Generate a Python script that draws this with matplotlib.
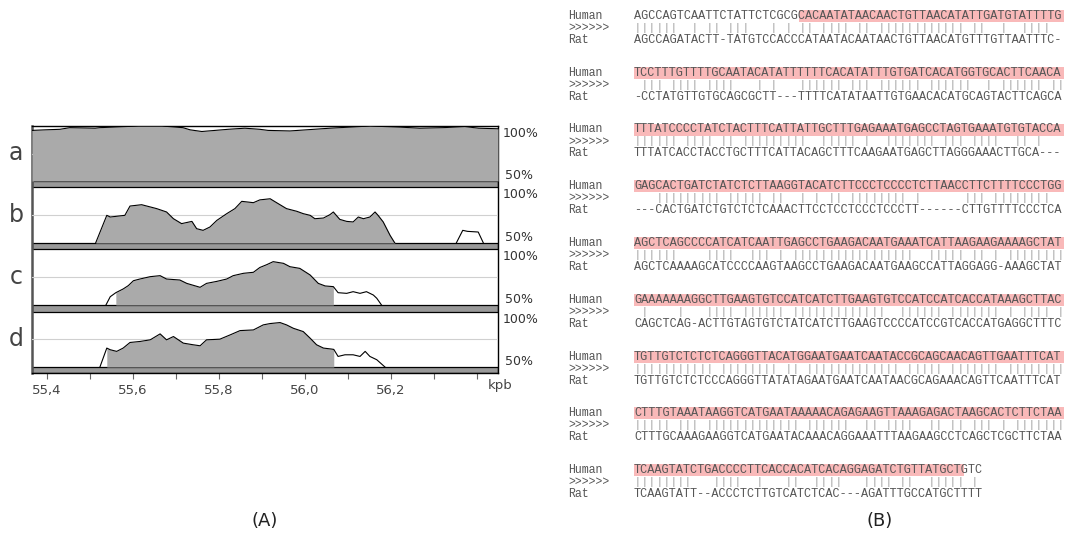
import numpy as np
import matplotlib.pyplot as plt
from matplotlib.patches import Rectangle

W, H = 1067, 533

# ---- (A) conservation profiles: position (kpb) and identity (%) ----
a_x = [55.365, 55.395, 55.430, 55.453, 55.512, 55.523, 55.612, 55.667, 55.716, 55.733,
       55.760, 55.791, 55.821, 55.860, 55.895, 55.914, 55.965, 56.058, 56.151, 56.221,
       56.267, 56.321, 56.372, 56.404, 56.449]
a_y = [96, 96.5, 97, 98.5, 98, 98.5, 100, 100, 98.5, 96.5,
       95, 96, 97, 98, 97, 96, 95.5, 98, 100, 99,
       98, 98.5, 99.5, 98, 97.5]

b_x = [55.513, 55.539, 55.547, 55.581, 55.593, 55.620, 55.655, 55.678, 55.694, 55.713,
       55.737, 55.748, 55.763, 55.779, 55.795, 55.818, 55.837, 55.853, 55.880, 55.895,
       55.919, 55.934, 55.957, 55.981, 55.996, 56.012, 56.023, 56.043, 56.058, 56.066,
       56.081, 56.097, 56.112, 56.124, 56.136, 56.151, 56.163, 56.170, 56.182, 56.198,
       56.209]
b_y = [50, 74.7, 73.2, 74.7, 83.0, 84.2, 80.7, 77.7, 71.7, 67.3,
       69.3, 62.8, 61.3, 64.3, 70.2, 76.2, 80.7, 87.2, 86.0, 88.5,
       89.5, 86.0, 80.7, 78.3, 76.2, 74.7, 71.7, 72.3, 75.3, 77.7,
       71.1, 69.3, 68.8, 73.2, 71.7, 73.2, 77.7, 74.7, 68.8, 56.8,
       50]
b2_x = [56.352, 56.367, 56.378, 56.403, 56.415]
b2_y = [50, 61.3, 60.4, 59.8, 50]

c_x = [55.537, 55.547, 55.560, 55.577, 55.589, 55.601, 55.616, 55.640, 55.663, 55.678,
       55.709, 55.725, 55.756, 55.771, 55.795, 55.818, 55.833, 55.857, 55.880, 55.895,
       55.911, 55.926, 55.950, 55.965, 55.988, 56.012, 56.031, 56.047, 56.066, 56.077,
       56.097, 56.112, 56.128, 56.143, 56.159, 56.167, 56.178]
c_y = [50, 57.4, 61.0, 64.3, 67.3, 71.7, 73.2, 75.3, 76.2, 73.2,
       72.3, 69.3, 65.8, 69.3, 71.1, 73.2, 76.2, 78.3, 79.2, 83.5,
       86.0, 88.7, 87.2, 84.2, 82.7, 76.8, 69.3, 67.0, 66.4, 61.0,
       60.4, 61.9, 60.4, 61.9, 58.9, 56.0, 50]
c_fill = (55.560, 56.066)

d_x = [55.523, 55.539, 55.547, 55.562, 55.577, 55.593, 55.616, 55.640, 55.663, 55.678,
       55.694, 55.717, 55.740, 55.756, 55.771, 55.802, 55.826, 55.849, 55.880, 55.903,
       55.919, 55.942, 55.957, 55.973, 55.996, 56.012, 56.027, 56.043, 56.062, 56.067,
       56.077, 56.093, 56.112, 56.128, 56.140, 56.151, 56.167, 56.186]
d_y = [50, 67.2, 65.7, 64.2, 67.2, 72.3, 73.2, 74.7, 80.1, 74.7,
       77.7, 71.7, 70.2, 69.3, 74.7, 75.3, 79.2, 83.1, 83.7, 88.3,
       89.5, 90.4, 88.3, 85.2, 82.2, 76.2, 70.2, 67.2, 66.3, 66.0,
       59.6, 61.1, 61.1, 59.6, 64.2, 59.6, 56.6, 50]
d_fill = (55.539, 56.067)

track_names = ['a', 'b', 'c', 'd']
tick_vals = [55.4, 55.5, 55.6, 55.7, 55.8, 55.9, 56.0, 56.1, 56.2, 56.3, 56.4]
tick_labels = ['55,4', '', '55,6', '', '55,8', '', '56,0', '', '56,2', '', '']

# ---- (B) alignment ----
human_seq = [
    "AGCCAGTCAATTCTATTCTCGCGCACAATATAACAACTGTTAACATATTGATGTATTTTG",
    "TCCTTTGTTTTGCAATACATATTTTTTCACATATTTGTGATCACATGGTGCACTTCAACA",
    "TTTATCCCCTATCTACTTTCATTATTGCTTTGAGAAATGAGCCTAGTGAAATGTGTACCA",
    "GAGCACTGATCTATCTCTTAAGGTACATCTTCCCTCCCCTCTTAACCTTCTTTTCCCTGG",
    "AGCTCAGCCCCATCATCAATTGAGCCTGAAGACAATGAAATCATTAAGAAGAAAAGCTAT",
    "GAAAAAAAGGCTTGAAGTGTCCATCATCTTGAAGTGTCCATCCATCACCATAAAGCTTAC",
    "TGTTGTCTCTCTCAGGGTTACATGGAATGAATCAATACCGCAGCAACAGTTGAATTTCAT",
    "CTTTGTAAATAAGGTCATGAATAAAAACAGAGAAGTTAAAGAGACTAAGCACTCTTCTAA",
    "TCAAGTATCTGACCCCTTCACCACATCACAGGAGATCTGTTATGCTGTC",
]
rat_seq = [
    "AGCCAGATACTT-TATGTCCACCCATAATACAATAACTGTTAACATGTTTGTTAATTTC-",
    "-CCTATGTTGTGCAGCGCTT---TTTTCATATAATTGTGAACACATGCAGTACTTCAGCA",
    "TTTATCACCTACCTGCTTTCATTACAGCTTTCAAGAATGAGCTTAGGGAAACTTGCA---",
    "---CACTGATCTGTCTCTCAAACTTCCTCCTCCCTCCCTT------CTTGTTTTCCCTCA",
    "AGCTCAAAAGCATCCCCAAGTAAGCCTGAAGACAATGAAGCCATTAGGAGG-AAAGCTAT",
    "CAGCTCAG-ACTTGTAGTGTCTATCATCTTGAAGTCCCCATCCGTCACCATGAGGCTTTC",
    "TGTTGTCTCTCCCAGGGTTATATAGAATGAATCAATAACGCAGAAACAGTTCAATTTCAT",
    "CTTTGCAAAGAAGGTCATGAATACAAACAGGAAATTTAAGAAGCCTCAGCTCGCTTCTAA",
    "TCAAGTATT--ACCCTCTTGTCATCTCAC---AGATTTGCCATGCTTTT",
]
hl_start = [23, 0, 0, 0, 0, 0, 0, 0, 0]
hl_end = [60, 60, 60, 60, 60, 60, 60, 60, 46]


def rect(x0, y0, x1, y1):
    return [x0 / W, 1 - y1 / H, (x1 - x0) / W, (y1 - y0) / H]


fig = plt.figure(figsize=(W / 100, H / 100), dpi=100)

# frame + x axis of panel A (y in pixel units, for the separators)
base = fig.add_axes(rect(32, 126, 498, 373))
base.set_xlim(55.365, 56.449)
base.set_ylim(373, 126)
base.set_yticks([])
base.set_xticks(tick_vals)
base.set_xticklabels(tick_labels, fontsize=9.5, color='#444')
base.tick_params(axis='x', direction='out', length=4, width=0.8, color='#666', pad=4)
for s in ['top', 'right', 'bottom']:
    base.spines[s].set_color('black')
    base.spines[s].set_linewidth(1)
base.spines['left'].set_color('#555')
base.spines['left'].set_linewidth(1.8)
for y0, y1 in [(181, 187), (243, 249), (305, 312), (367, 373)]:
    base.add_patch(Rectangle((55.365, y0), 56.449 - 55.365, y1 - y0,
                             facecolor='#999999', edgecolor='black', lw=0.9))
fig.text(500 / W, 1 - 386 / H, 'kpb', ha='center', va='center', fontsize=9.5, color='#444')

tracks = [(126, 181), (187, 243), (249, 305), (312, 367)]
axes = []
for (y0, y1), name in zip(tracks, track_names):
    ax = fig.add_axes(rect(32, y0, 498, y1))
    ax.set_xlim(55.365, 56.449)
    ax.set_ylim(50, 100)
    ax.axis('off')
    ax.axhline(75, color='#d0d0d0', lw=0.8, zorder=0)
    ax.text(1.01, 0.87, '100%', transform=ax.transAxes, ha='left', va='center',
            fontsize=9, color='#333')
    ax.text(1.015, 0.1, '50%', transform=ax.transAxes, ha='left', va='center',
            fontsize=9, color='#333')
    fig.text(16 / W, 1 - (y0 + y1) / 2 / H, name, ha='center', va='center',
             fontsize=17, color='#444')
    axes.append(ax)

fill_c = '#aaaaaa'
ax = axes[0]
ax.fill_between(a_x, a_y, 50, color=fill_c, lw=0)
ax.plot(a_x, a_y, color='black', lw=0.8)

ax = axes[1]
ax.fill_between(b_x, b_y, 50, color=fill_c, lw=0)
ax.plot(b_x, b_y, color='black', lw=0.8)
ax.plot(b2_x, b2_y, color='black', lw=0.8)

for ax, xs, ys, (f0, f1) in [(axes[2], c_x, c_y, c_fill), (axes[3], d_x, d_y, d_fill)]:
    xs = np.array(xs)
    ax.fill_between(xs, ys, 50, where=(xs >= f0) & (xs <= f1), color=fill_c, lw=0)
    ax.plot(xs, ys, color='black', lw=0.8)

# ---- panel B ----
rb = fig.add_axes(rect(634, 0, 1064, 533))
rb.set_xlim(0, 60)
rb.set_ylim(533, 0)
rb.axis('off')
mono = 'Liberation Mono'
txt_c = '#555555'
for i, (hs, rs) in enumerate(zip(human_seq, rat_seq)):
    y = 16 + 56.75 * i
    rb.add_patch(Rectangle((hl_start[i], y - 6), hl_end[i] - hl_start[i], 12,
                           facecolor='#f9b9b9', edgecolor='none'))
    rb.text(0, y, hs, family=mono, fontsize=8.6, ha='left', va='center', color=txt_c)
    rb.text(0, y + 24, rs, family=mono, fontsize=8.6, ha='left', va='center', color=txt_c)
    for k, (h, r) in enumerate(zip(hs, rs)):
        if h == r and h != '-':
            rb.text(k + 0.5, y + 12, '|', family=mono, fontsize=7, ha='center',
                    va='center', color='#888888')
    for dy, lab in [(0, 'Human'), (12, '>>>>>>'), (24, 'Rat')]:
        rb.text(-9.2, y + dy, lab, family=mono, fontsize=8.3, ha='left', va='center',
                color=txt_c, clip_on=False)

fig.text(265 / W, 1 - 521 / H, '(A)', ha='center', va='center', fontsize=13, color='#222')
fig.text(880 / W, 1 - 521 / H, '(B)', ha='center', va='center', fontsize=13, color='#222')

fig.savefig('out.png', dpi=100)
